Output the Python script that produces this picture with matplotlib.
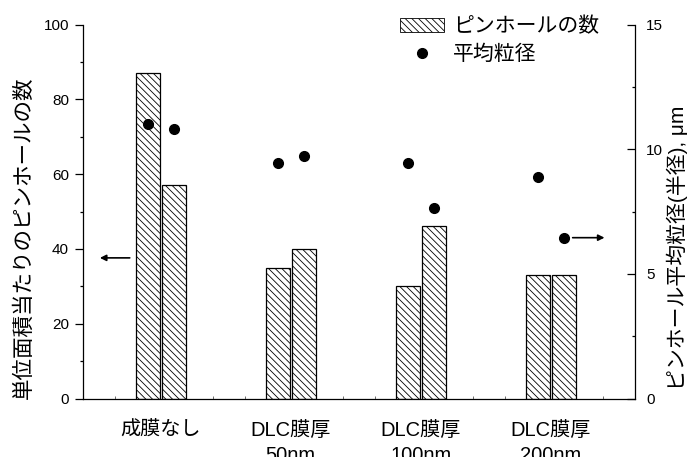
import matplotlib
matplotlib.use("Agg")
import matplotlib.pyplot as plt
import numpy as np
from matplotlib.patches import Patch
from matplotlib.lines import Line2D

plt.rcParams['font.family'] = ['Liberation Sans', 'Noto Sans CJK JP']
plt.rcParams['hatch.linewidth'] = 0.6

categories = ["成膜なし", "DLC膜厚\n50nm", "DLC膜厚\n100nm", "DLC膜厚\n200nm"]
pinholes_a = [87, 35, 30, 33]
pinholes_b = [57, 40, 46, 33]
size_a = [11.0, 9.45, 9.43, 8.9]
size_b = [10.8, 9.73, 7.63, 6.45]
left_ticks = [0, 20, 40, 60, 80, 100]
right_ticks = [0, 5, 10, 15]

fig = plt.figure(figsize=(6.92, 4.57), dpi=100)
ax = fig.add_axes([83/692, 1-398.5/457, 552/692, 374/457])
ax2 = ax.twinx()

x = np.arange(len(categories))
w = 0.185
off = 0.1
hatch = '\\\\\\\\\\'
ax.bar(x - off, pinholes_a, w, facecolor='white', edgecolor='black', hatch=hatch, linewidth=0.9, zorder=2)
ax.bar(x + off, pinholes_b, w, facecolor='white', edgecolor='black', hatch=hatch, linewidth=0.9, zorder=2)
ax2.plot(x - off, size_a, 'o', color='black', ms=7, zorder=3)
ax2.plot(x + off, size_b, 'o', color='black', ms=7, zorder=3)

ax.set_xlim(-0.6, 3.65)
ax.set_ylim(0, 100)
ax2.set_ylim(0, 15)

ax.set_xticks(x)
ax.set_xticklabels(categories, fontsize=14.5, linespacing=1.45)
ax.tick_params(axis='x', which='major', length=0, pad=16)
ax.set_xticks(np.arange(-0.6, 3.66, 0.25), minor=True)
ax.tick_params(axis='x', which='minor', direction='in', length=2, width=0.6, color='#555555')

ax.set_yticks(left_ticks)
ax.set_yticks([10, 30, 50, 70, 90], minor=True)
ax.tick_params(axis='y', which='major', direction='out', length=6, width=0.9, labelsize=11, pad=4)
ax.tick_params(axis='y', which='minor', direction='out', length=2.5, width=0.9)

ax2.set_yticks(right_ticks)
ax2.set_yticks([2.5, 7.5, 12.5], minor=True)
ax2.tick_params(axis='y', which='major', direction='in', length=6, width=0.9, labelsize=11, pad=8)
ax2.tick_params(axis='y', which='minor', direction='in', length=2.5, width=0.9)

for a in (ax, ax2):
    a.spines['top'].set_visible(False)
    for s in a.spines.values():
        s.set_linewidth(0.9)
ax.spines['right'].set_visible(False)
ax2.spines['left'].set_visible(False)
ax2.spines['bottom'].set_visible(False)

fig.text(24/692, 1-238/457, "単位面積当たりのピンホールの数", rotation=90, ha='center', va='center', fontsize=15.5)
fig.text(677/692, 1-248/457, "ピンホール平均粒径(半径), μm", rotation=90, ha='center', va='center', fontsize=15)

ax.annotate("", xy=(-0.47, 37.6), xytext=(-0.24, 37.6),
            arrowprops=dict(arrowstyle='-|>', color='black', lw=1.2, mutation_scale=9, shrinkA=0, shrinkB=0))
ax2.annotate("", xy=(3.415, 6.45), xytext=(3.17, 6.45),
             arrowprops=dict(arrowstyle='-|>', color='black', lw=1.2, mutation_scale=9, shrinkA=0, shrinkB=0))

handles = [Patch(facecolor='white', edgecolor='black', hatch=hatch, linewidth=0.6),
           Line2D([], [], marker='o', ls='none', color='black', ms=7)]
leg = fig.legend(handles, ["ピンホールの数", "平均粒径"], loc='upper left',
                 bbox_to_anchor=(400/692, 1-17/457), bbox_transform=fig.transFigure,
                 frameon=False, fontsize=15, handlelength=2.1, handleheight=0.65,
                 handletextpad=0.45, borderpad=0, borderaxespad=0, labelspacing=0.4)

fig.savefig("out.png", dpi=100)
